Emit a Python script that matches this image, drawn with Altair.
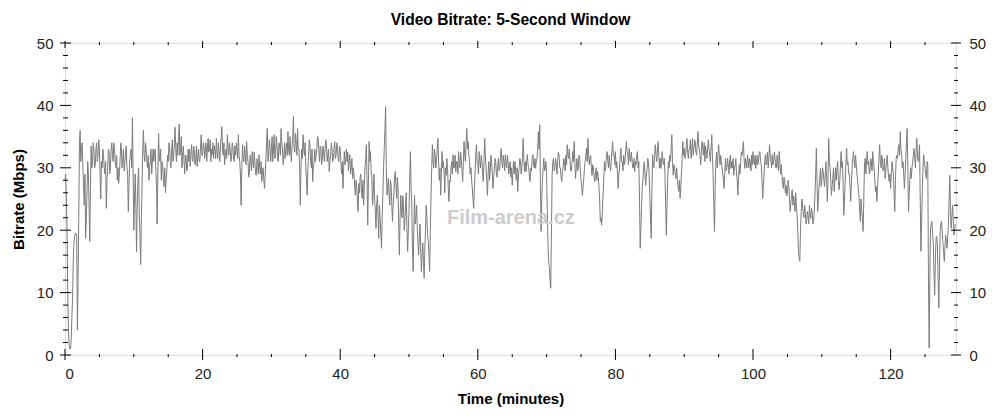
import altair as alt
import pandas as pd

# Bitrate samples (Mbps), one row per minute, samples every 0.1 min
bitrate_rows = [
    [28, 29, 25, 20, 10, 4, 1.5, 1.0, 1.0, 2.5],
    [6, 9, 15, 18, 19, 19.5, 19.5, 19, 4, 12],
    [22, 34, 36, 31, 33, 34, 30, 27, 24, 29],
    [18.7, 22, 26, 31, 29, 24, 18.2, 27, 33.5, 30],
    [31, 34, 33, 30, 30.5, 33, 34, 31, 32, 34.5],
    [33, 29, 25, 31, 30, 33, 32, 30, 29, 31],
    [23.5, 28, 30, 33, 32.5, 29, 30, 33, 34, 32],
    [31, 34, 33, 31, 30, 32, 28, 30, 27.5, 29],
    [31, 34, 33, 30, 31.5, 33, 29.5, 31, 32, 33.5],
    [30, 29, 23, 27, 31, 32, 33, 30, 38, 29],
    [20, 25, 29, 24, 16.5, 24, 28, 30, 22.5, 19],
    [14.5, 22, 27, 33, 36, 32, 31, 34, 33, 31],
    [30, 32, 28, 30, 31, 33, 29, 31, 33, 31],
    [32, 33, 30, 27, 21, 29, 35.5, 32, 31, 33],
    [28, 31, 30.5, 28, 27, 30, 26, 28, 29.5, 32],
    [31, 34, 33.5, 31, 30, 33, 34.5, 31, 32, 34],
    [36.5, 33, 31, 34, 32, 35, 37, 32, 33, 35],
    [30, 32, 33.5, 31, 29, 32, 32, 29.5, 30, 33],
    [31, 33, 30.2, 32, 33.7, 31.5, 31, 33.5, 32.5, 30.5],
    [31.5, 33.5, 30.2, 32, 33, 31, 31, 33.5, 35.3, 32],
    [32, 34, 33.5, 31.5, 32.6, 34, 31, 33, 34.7, 32.5],
    [33, 34.5, 31, 33, 32.1, 34, 31.5, 33.5, 33, 31.5],
    [34.7, 32.5, 31.5, 34, 32.6, 31, 33.5, 35, 36.6, 33],
    [32, 34, 30.5, 32, 33, 31.5, 35.3, 33, 32, 34],
    [33, 31, 31.5, 34, 33.5, 31.5, 31, 33.5, 32, 34],
    [33, 31.5, 35.3, 32, 31, 29, 24, 30, 33.7, 31.5],
    [31, 33.5, 32, 30.5, 34.2, 32, 31, 28.5, 29.4, 32],
    [31, 29.5, 32.6, 31, 30, 32.5, 31, 29, 28.8, 31.5],
    [30.5, 29, 32.1, 30, 29, 31, 27.8, 29.5, 30, 28],
    [26.7, 29, 31.5, 34, 36.3, 31, 32, 34.5, 33.1, 31],
    [33.1, 35, 31, 33, 35.3, 31.5, 32, 35, 34, 31.5],
    [31, 34, 33.5, 32, 36.3, 34, 33, 30.5, 31.5, 34],
    [31.5, 33, 34, 32, 35.8, 33, 32, 35, 32.6, 31],
    [33.5, 35, 38.2, 33, 32.5, 35.5, 34.2, 32, 36.3, 33],
    [33, 30, 24, 30, 33, 31.5, 35.3, 33, 32, 34],
    [30, 28, 25.6, 30, 32, 34.5, 33.7, 31, 30, 33],
    [27.8, 30, 31, 33, 31, 32, 33, 35, 34.7, 32.5],
    [31, 33.5, 33.1, 30.5, 31.5, 33.5, 32.1, 31, 33, 34.5],
    [33.7, 31, 32, 33, 29.4, 31, 32, 34, 33.1, 31],
    [31.5, 33, 34.2, 31.5, 32, 34, 33.1, 31.5, 31, 33.5],
    [33, 31, 29, 31, 26.7, 30, 32.6, 30.5, 31, 33],
    [31, 32.5, 29.5, 31, 32.1, 29, 30, 31.5, 28.3, 30],
    [29, 27, 25.6, 28, 27, 25, 23, 27.5, 26, 28.5],
    [29, 26, 25.1, 28, 24, 27, 30, 31.5, 33.7, 28],
    [20.8, 28, 34.2, 31, 32.6, 29, 28.3, 24, 26, 29],
    [25, 23, 20.3, 24, 25.6, 22, 18.7, 24, 22, 19.5],
    [17.1, 22, 25.6, 30, 33.1, 36, 39.8, 30, 25.6, 27],
    [28.3, 25.5, 24, 28, 27.2, 24, 21.4, 24, 26, 28.5],
    [29.4, 27, 25.1, 28.5, 27, 21, 16, 22, 25.6, 23],
    [22, 25.5, 24, 20, 21.4, 24, 26, 20, 16.6, 20],
    [23, 28, 32.6, 27, 24, 17, 13.4, 20, 25.6, 21],
    [22, 24, 20.3, 18, 16, 19, 21, 17, 13.4, 16],
    [18, 15, 12.3, 17, 20.3, 24, 22, 19, 18.2, 16],
    [13.4, 20, 25.6, 30, 33.7, 31, 30, 33, 32.1, 30],
    [31, 33, 34.7, 31, 28, 30, 25.6, 29, 32.6, 30],
    [31, 29, 26, 30, 28.8, 31.5, 30, 27, 24.6, 28],
    [27.8, 30, 31, 29, 32.1, 30, 30, 32, 29.4, 31],
    [31, 29, 32.6, 31, 30, 32.5, 31.5, 29.5, 27.8, 31],
    [34.2, 32, 31, 34, 36.3, 33, 34.2, 32, 31, 29],
    [30, 28, 26.7, 25, 23.5, 27, 29, 32, 33.7, 31],
    [30.5, 29, 32.6, 31, 30, 32, 31, 29, 27.8, 31],
    [34.7, 32, 30, 28, 25.6, 29, 31, 28, 29.4, 32],
    [31, 29, 26.7, 28.5, 29.9, 31.5, 31, 29, 28.5, 30.5],
    [31.5, 29.5, 30, 32, 33.1, 31, 30, 32, 31, 29.5],
    [32.1, 30.5, 30, 32, 31, 29, 29.9, 31, 28.5, 30],
    [27.2, 29.5, 31, 29, 31, 29.5, 28, 30, 26.2, 28.5],
    [29.9, 31.5, 31, 29, 30, 32, 34.7, 31, 29.4, 31],
    [29.4, 31, 32.1, 30.5, 30, 28.5, 27.8, 30, 29.5, 31.5],
    [32.1, 30.5, 30, 31.5, 29.9, 31, 31.5, 33, 35.8, 33],
    [36.9, 27, 19.8, 25, 28.3, 30, 31.5, 29.5, 30, 31],
    [28.8, 23, 17.6, 15, 13.9, 12, 10.7, 20, 28.8, 31],
    [31.5, 29.5, 30, 31.5, 30.5, 29, 31, 32.5, 32.1, 30],
    [30, 28.5, 27.8, 29.5, 30, 31.5, 31, 29.5, 32, 30.5],
    [33.7, 32, 31.5, 33, 31, 29.5, 29.5, 31, 32.6, 31],
    [34.2, 31, 28.3, 30, 31.5, 29.5, 30, 32, 31.5, 29.5],
    [28, 27, 25.6, 27, 28.3, 30, 31, 32, 33.1, 31],
    [34.7, 32, 30.5, 31.5, 32, 30, 28.8, 30.5, 30, 28.5],
    [27.8, 29, 30, 28, 29.4, 28.5, 27, 25, 21.4, 22],
    [20.8, 23, 25.6, 28, 31, 29.5, 30, 32, 32.6, 31],
    [30, 32, 30.5, 29.5, 31, 33, 34.2, 32, 32.1, 30.5],
    [32.6, 30, 31, 29, 26.7, 29, 30, 32, 33.1, 31],
    [31, 29.5, 32, 30.5, 31, 33, 34.2, 32.5, 32, 30.5],
    [33.1, 31.5, 31, 32.5, 31.5, 30, 30, 31.5, 29.4, 31],
    [30.5, 32, 32.6, 30, 31, 25, 17.1, 20, 24, 27],
    [28, 30, 31, 29, 27.2, 29, 29.9, 31.5, 31, 29],
    [25.6, 22, 18.7, 26, 32.1, 30.5, 30, 32, 33.7, 32],
    [31, 33, 34.2, 32, 30, 31.5, 29.9, 31, 32.6, 31],
    [30.5, 31.5, 29, 24, 19.2, 24, 28.3, 31, 30, 32],
    [31, 33, 35.3, 31, 28.8, 30.5, 30, 29, 28.3, 30],
    [28, 27, 26.2, 28, 25.1, 27, 29, 31.5, 34.2, 32],
    [33.1, 31.5, 32, 33.5, 34.7, 32.5, 31.5, 33, 33, 34.5],
    [31.5, 33, 34.7, 32, 33, 34.5, 34.2, 32.5, 32, 34],
    [35.8, 33.5, 33, 32, 30.5, 33, 34.2, 33, 32, 34],
    [31, 33.5, 32.6, 31.5, 33, 34.5, 33.1, 32, 31, 33],
    [35.3, 32, 28.8, 24, 19.8, 27, 31, 32.5, 30, 32],
    [33.7, 32, 30.5, 32, 31, 30, 29, 28, 26.7, 29.5],
    [31.5, 29.5, 30, 31.5, 30.5, 29, 31, 32, 29.9, 31],
    [30, 31.5, 28.8, 30, 30.5, 31.5, 29, 28, 25.6, 28.5],
    [30.5, 29, 31, 32.5, 32, 33, 34.2, 31.5, 29.9, 31.5],
    [31, 30, 32.1, 31, 30, 31.5, 31, 29.5, 32, 30.5],
    [32.6, 31, 30.5, 32, 29.9, 31, 32, 30.5, 31, 32.5],
    [32.6, 31, 30.5, 28, 25.1, 27, 29, 31, 32.1, 30.5],
    [31, 32.5, 30, 31.5, 33.7, 32, 31, 30, 32.1, 30.5],
    [31, 32.5, 31.5, 30, 30, 32, 30.5, 29.5, 32.6, 31],
    [29, 30.5, 28.8, 27.5, 26.7, 28.5, 28, 26, 27.2, 25.5],
    [26.2, 28, 27, 25, 23, 24.5, 25.6, 26.5, 24, 25.5],
    [24.6, 23, 26, 24, 22.4, 20, 16.6, 15.5, 15, 20],
    [23, 25, 24, 22.5, 22, 24, 23, 21, 21.5, 23],
    [22.4, 21, 24, 22.5, 21.9, 23.5, 23, 21, 21.4, 23],
    [25.6, 29, 33.1, 28, 23, 25, 27, 28.5, 29.9, 27],
    [28, 30, 29.4, 28, 27, 29, 31, 28, 24.6, 28],
    [34.7, 31, 30, 28, 25.6, 27, 28.3, 30, 26.2, 28],
    [30, 28, 29.9, 31, 28, 26.5, 27.8, 30, 32.6, 30],
    [31, 27, 22.4, 25, 28, 31, 33.1, 30.5, 31, 29],
    [29, 27, 24.6, 27.5, 30, 31.5, 32.6, 31, 30, 32],
    [30.5, 29, 28, 26.5, 25.6, 23, 21.4, 25, 23, 22],
    [19.8, 25, 30.5, 31.5, 29, 31, 32.6, 30.5, 31, 29],
    [29.4, 31.5, 31, 29.5, 32.6, 31, 30, 28, 26.2, 27],
    [24.6, 27, 29, 31.5, 33.7, 31, 30, 32, 31.5, 29.5],
    [30, 31.5, 28.3, 29.5, 31, 32, 30, 28.5, 27.8, 29],
    [26.7, 29, 31, 30, 29, 26, 23, 28, 31.5, 32],
    [31.5, 33, 33.7, 32, 35.8, 33, 32, 30, 31, 29],
    [26.7, 29, 31.5, 34, 36.3, 30, 23, 26, 28, 30],
    [28.3, 30, 31, 32, 33.1, 31.5, 30, 32.5, 34.7, 32],
    [31, 32, 33.7, 25, 16.6, 21, 26.2, 30, 32.1, 31],
    [30, 29, 28.3, 31, 30.5, 12, 1.1, 12, 20.3, 21],
    [21.4, 19.5, 18, 13, 9.6, 15, 18.7, 19, 17.6, 12],
    [7.5, 14, 19.8, 21, 21.4, 19.5, 18, 16.5, 15, 17.5],
    [19.2, 18, 17.1, 19, 20.8, 25, 28.8, 23, 20.3, 22],
    [24, 22, 19.2, 20, 21],
]
sample_step = 0.1

x_major = [0, 20, 40, 60, 80, 100, 120]
x_minor = [5, 10, 15, 25, 30, 35, 45, 50, 55, 65, 70, 75, 85, 90, 95, 105, 110, 115, 125]
y_major = [0, 10, 20, 30, 40, 50]
y_minor = [2, 4, 6, 8, 12, 14, 16, 18, 22, 24, 26, 28, 32, 34, 36, 38, 42, 44, 46, 48]

times, values = [], []
for minute, row in enumerate(bitrate_rows):
    for j, v in enumerate(row):
        times.append(round(minute + j * sample_step, 2))
        values.append(v)
df = pd.DataFrame({"t": times, "v": values})

W, H = 891, 312
FONT = "Liberation Sans"
xs = alt.Scale(domain=[0, 129.5], nice=False, zero=False)
ys = alt.Scale(domain=[0, 50], nice=False)

lab = dict(labelFont=FONT, labelFontSize=15, labelColor="#222222", ticks=False,
           tickSize=0, domain=False, grid=False, titleFont=FONT, titleFontSize=15,
           titleFontWeight="bold", titleColor="#000000")

line = alt.Chart(df).mark_line(color="#7c7c7c", strokeWidth=1).encode(
    x=alt.X("t:Q", scale=xs, axis=alt.Axis(values=x_major, title="Time (minutes)",
                                           labelPadding=11, titlePadding=10, **lab)),
    y=alt.Y("v:Q", scale=ys, axis=alt.Axis(values=y_major, title="Bitrate (Mbps)",
                                           labelPadding=12, titlePadding=10, **lab)),
)

dxM = pd.DataFrame({"x": x_major})
dxm = pd.DataFrame({"x": x_minor})
dyM = pd.DataFrame({"y": y_major})
dym = pd.DataFrame({"y": y_minor})

tick = dict(color="#000000", strokeWidth=1)

yl_major = alt.Chart(dyM).mark_rule(**tick).encode(
    y=alt.Y("y:Q", scale=ys, axis=None), x=alt.value(-5), x2=alt.value(6))
yr_major = alt.Chart(dyM).mark_rule(**tick).encode(
    y=alt.Y("y:Q", scale=ys, axis=alt.Axis(values=y_major, orient="right", title=None,
                                           labelPadding=13, **lab)),
    x=alt.value(W - 5), x2=alt.value(W + 5))
yl_minor = alt.Chart(dym).mark_rule(**tick).encode(
    y=alt.Y("y:Q", scale=ys, axis=None), x=alt.value(-2), x2=alt.value(3))
yr_minor = alt.Chart(dym).mark_rule(**tick).encode(
    y=alt.Y("y:Q", scale=ys, axis=None), x=alt.value(W - 2), x2=alt.value(W + 2))

xb_major = alt.Chart(dxM).mark_rule(**tick).encode(
    x=alt.X("x:Q", scale=xs, axis=None), y=alt.value(H - 6), y2=alt.value(H + 5))
xt_major = alt.Chart(dxM).mark_rule(**tick).encode(
    x=alt.X("x:Q", scale=xs, axis=None), y=alt.value(-2), y2=alt.value(5))
xb_minor = alt.Chart(dxm).mark_rule(**tick).encode(
    x=alt.X("x:Q", scale=xs, axis=None), y=alt.value(H - 1), y2=alt.value(H + 2))
xt_minor = alt.Chart(dxm).mark_rule(**tick).encode(
    x=alt.X("x:Q", scale=xs, axis=None), y=alt.value(-1), y2=alt.value(2))

watermark = alt.Chart(pd.DataFrame({"t": [64.8], "v": [22], "s": ["Film-arena.cz"]})).mark_text(
    font=FONT, fontSize=20, fontWeight="bold", color="#cccccc", align="center", baseline="middle"
).encode(x=alt.X("t:Q", scale=xs, axis=None), y=alt.Y("v:Q", scale=ys, axis=None), text="s:N")

chart = alt.layer(
    line, watermark, yl_major, yr_major, yl_minor, yr_minor, xb_major, xt_major, xb_minor, xt_minor
).resolve_axis(y="independent", x="independent").properties(
    width=W, height=H,
    title=alt.TitleParams("Video Bitrate: 5-Second Window", font=FONT, fontSize=15.6,
                          fontWeight="bold", color="#000000", anchor="middle", offset=7),
    padding={"left": 57, "top": 35, "right": 40, "bottom": 55},
    autosize=alt.AutoSizeParams(type="none"),
).configure_view(stroke="#000000", strokeWidth=1).configure(background="white")

chart.save("out.html", embed_options={"renderer": "svg", "actions": False})
